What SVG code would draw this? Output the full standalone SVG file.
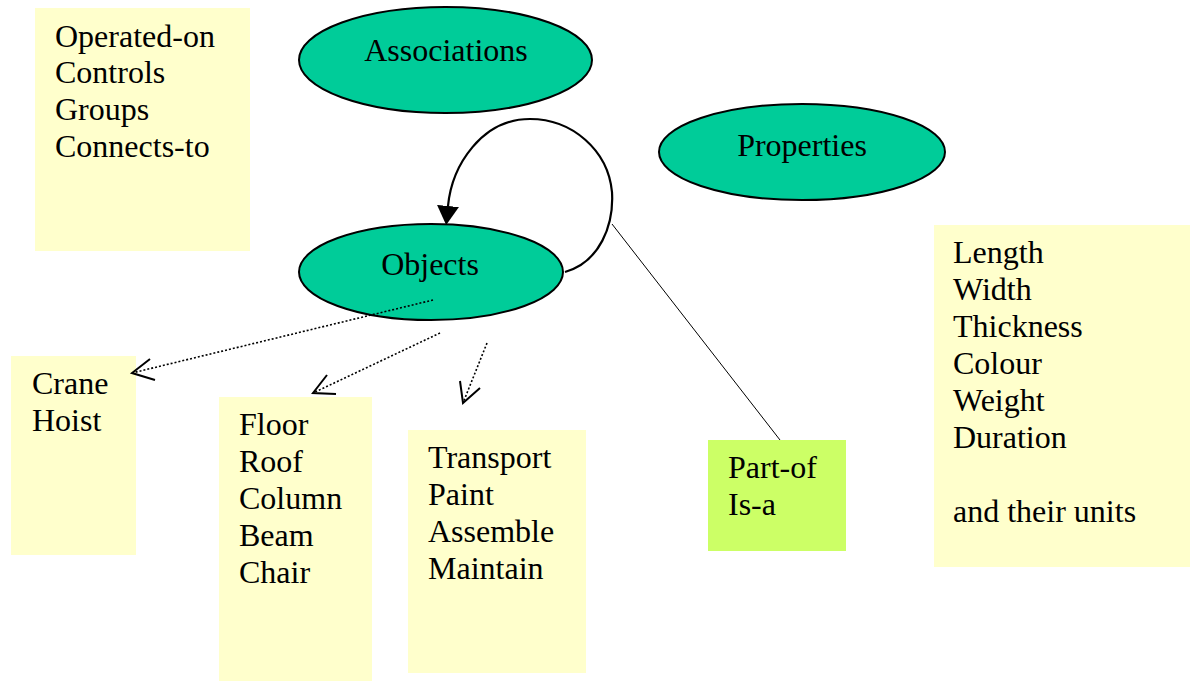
<svg xmlns="http://www.w3.org/2000/svg" width="1190" height="681" viewBox="0 0 1190 681">
  <style>
    text { font-family: 'Liberation Serif', 'Tinos', 'Times New Roman', 'Times', 'Noto Serif', 'DejaVu Serif', 'FreeSerif', serif; font-size: 32px; fill: #000; }
    .ell { fill: #00cc99; stroke: #000; stroke-width: 2; }
    .note { fill: #ffffcc; stroke: none; }
    .green { fill: #ccff66; stroke: none; }
    .mid { text-anchor: middle; }
    .dot { fill: none; stroke: #000; stroke-width: 1.6; stroke-dasharray: 2 2; }
    .head { fill: none; stroke: #000; stroke-width: 2; }
  </style>
  <defs>
    <marker id="solidArrow" markerWidth="24" markerHeight="24" refX="0" refY="11" orient="auto" markerUnits="userSpaceOnUse">
      <path d="M0,0 L19,11 L0,22 Z" fill="#000"/>
    </marker>
  </defs>
  <rect width="1190" height="681" fill="#fff"/>

  <g id="note-associations">
    <rect class="note" x="35" y="8" width="215" height="243"/>
    <text x="55" y="47">Operated-on</text>
    <text x="55" y="83">Controls</text>
    <text x="55" y="120">Groups</text>
    <text x="55" y="157">Connects-to</text>
  </g>
  <g id="associations">
    <ellipse class="ell" cx="445.5" cy="60" rx="146.5" ry="53"/>
    <text class="mid" x="446" y="61">Associations</text>
  </g>
  <g id="properties">
    <ellipse class="ell" cx="802" cy="152" rx="143" ry="48"/>
    <text class="mid" x="802" y="156">Properties</text>
  </g>
  <g id="objects">
    <ellipse class="ell" cx="431" cy="272" rx="132" ry="48"/>
    <text class="mid" x="430" y="275">Objects</text>
  </g>
  <g id="note-crane">
    <rect class="note" x="11" y="356" width="125" height="199"/>
    <text x="32" y="394">Crane</text>
    <text x="32" y="431">Hoist</text>
  </g>
  <g id="note-floor">
    <rect class="note" x="219" y="397" width="153" height="284"/>
    <text x="239" y="435">Floor</text>
    <text x="239" y="472">Roof</text>
    <text x="239" y="509">Column</text>
    <text x="239" y="546">Beam</text>
    <text x="239" y="583">Chair</text>
  </g>
  <g id="note-transport">
    <rect class="note" x="408" y="430" width="178" height="243"/>
    <text x="428" y="468">Transport</text>
    <text x="428" y="505">Paint</text>
    <text x="428" y="542">Assemble</text>
    <text x="428" y="579">Maintain</text>
  </g>
  <g id="note-partof">
    <rect class="green" x="708" y="440" width="138" height="111"/>
    <text x="728" y="478">Part-of</text>
    <text x="728" y="515">Is-a</text>
  </g>
  <g id="note-properties">
    <rect class="note" x="934" y="225" width="256" height="342"/>
    <text x="953" y="263">Length</text>
    <text x="953" y="300">Width</text>
    <text x="953" y="337">Thickness</text>
    <text x="953" y="374">Colour</text>
    <text x="953" y="411">Weight</text>
    <text x="953" y="448">Duration</text>
    <text x="953" y="522">and their units</text>
  </g>

  <g id="connectors">
    <path d="M565,272 C600,262 614,225 612,192 C608,150 572,119 530,119 C482,119 452,165 448,206" fill="none" stroke="#000" stroke-width="2.2" marker-end="url(#solidArrow)"/>
    <line x1="612" y1="224" x2="780" y2="440" stroke="#000" stroke-width="1"/>
    <line class="dot" x1="433" y1="300" x2="132" y2="373"/>
    <polyline class="head" points="150,359 132,373 155,380"/>
    <line class="dot" x1="440" y1="333" x2="313" y2="393"/>
    <polyline class="head" points="327,375 313,393 336,394"/>
    <line class="dot" x1="487" y1="343" x2="463" y2="403"/>
    <polyline class="head" points="460,381 463,403 480,388"/>
  </g>
</svg>
